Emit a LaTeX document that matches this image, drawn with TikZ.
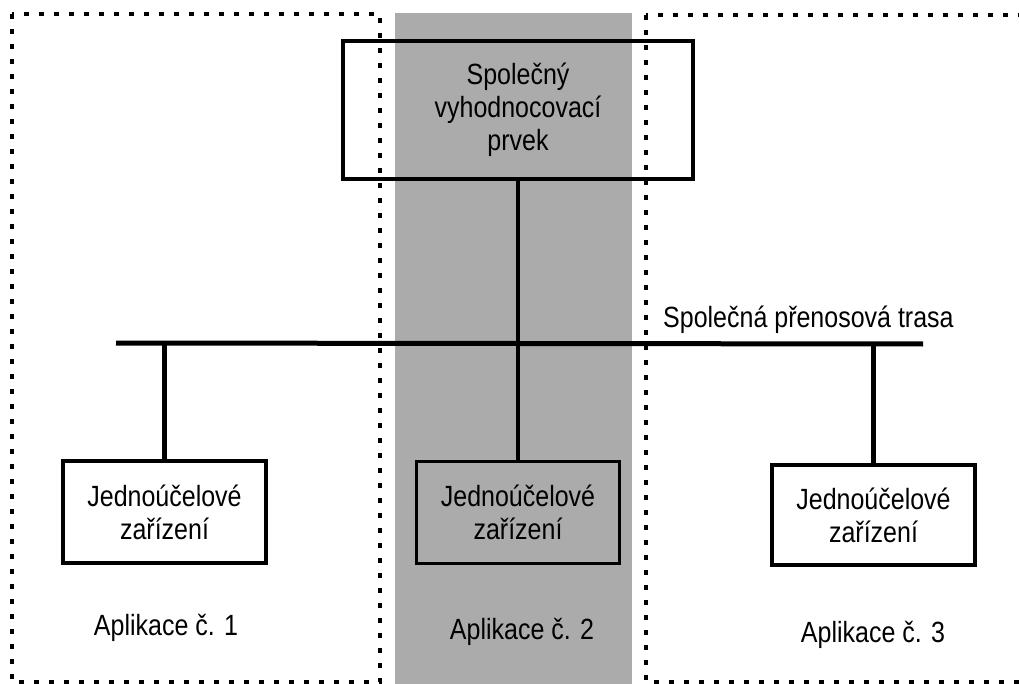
\documentclass[tikz,border=0pt]{standalone}
\usepackage{fontspec}
\setmainfont{Liberation Sans}
% slightly tall lettering
\newcommand{\tallline}[1]{\scalebox{1}[1.17]{#1}}
\begin{document}
\begin{tikzpicture}[x=1pt,y=-1pt,
  zone/.style={line width=4pt,dash pattern=on 5pt off 10pt},
  unitbox/.style={draw,line width=3.5pt,minimum width=203pt,minimum height=102pt,
    align=center,inner sep=0pt,font=\fontsize{25}{33}\selectfont},
  bus/.style={line width=5pt},
  drop/.style={line width=4.5pt},
  lbl/.style={inner sep=0pt,font=\fontsize{25}{30}\selectfont}]
  \clip (0,0) rectangle (1019,684);
  \fill[white] (0,0) rectangle (1019,684);
  % shaded band of the second application
  \fill[black!33] (395,13) rectangle (632,684);
  % application areas
  \draw[zone] (12,14) rectangle (380,682);
  \draw[zone] (646,15) rectangle (1030,682);
  % common evaluation element
  \node[draw,line width=3.5pt,minimum width=350pt,minimum height=138pt,align=center,
        inner sep=0pt,font=\fontsize{25}{33}\selectfont] (eval) at (518,110)
        {\tallline{Společný}\\\tallline{vyhodnocovací}\\\tallline{prvek}};
  % single-purpose devices
  \node[unitbox] (dev1) at (164.5,512) {\tallline{Jednoúčelové}\\\tallline{zařízení}};
  \node[unitbox] (dev2) at (518,512.5) {\tallline{Jednoúčelové}\\\tallline{zařízení}};
  \node[unitbox,minimum height=100pt] (dev3) at (873.5,515) {\tallline{Jednoúčelové}\\\tallline{zařízení}};
  % common transmission route
  \coordinate (busL) at (116,343);
  \coordinate (busR) at (923,344);
  \draw[bus] (busL) -- (busR);
  \node[lbl,anchor=base west] (buslbl) at (663,327) {\tallline{Společná přenosová trasa}};
  % connections to the route
  \draw[drop] (eval.south) -- (dev2.north);
  \draw[drop] (dev1.north) -- (dev1.north |- busL);
  \draw[drop] (dev3.north) -- (dev3.north |- busR);
  % application labels
  \node[lbl] (app1) at (166,628) {\tallline{Aplikace č. 1}};
  \node[lbl] (app2) at (522,632) {\tallline{Aplikace č. 2}};
  \node[lbl] (app3) at (873,635) {\tallline{Aplikace č. 3}};
\end{tikzpicture}
\end{document}
